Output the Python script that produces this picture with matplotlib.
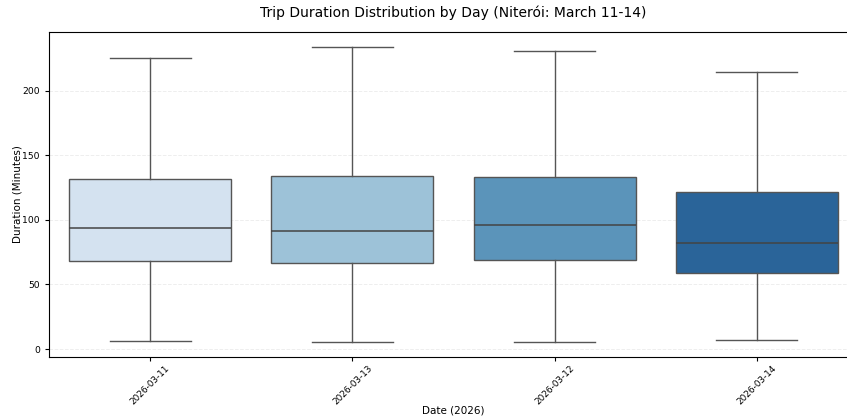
import matplotlib
matplotlib.use("Agg")
import matplotlib.pyplot as plt

# values (minutes)
dates = ["2026-03-11", "2026-03-13", "2026-03-12", "2026-03-14"]
whisker_low = [6.2, 5.4, 5.4, 7.0]
q1 = [68.2, 66.7, 69.0, 59.0]
median = [93.8, 91.5, 96.0, 82.0]
q3 = [131.8, 134.0, 133.3, 121.7]
whisker_high = [225.6, 234.0, 231.0, 214.7]
box_colors = ["#d4e2f0", "#9dc2d8", "#5b94ba", "#2a6499"]

stats = [
    {"label": d, "whislo": lo, "q1": a, "med": m, "q3": b, "whishi": hi, "fliers": []}
    for d, lo, a, m, b, hi in zip(dates, whisker_low, q1, median, q3, whisker_high)
]

fig = plt.figure(figsize=(8.47, 4.19), dpi=100)
ax = fig.add_axes([49 / 847, 62 / 419, 809 / 847, 325 / 419])

line_kw = dict(color="#555555", linewidth=1.0)
bp = ax.bxp(
    stats, positions=range(len(dates)), widths=0.8, patch_artist=True,
    showfliers=False, boxprops=dict(edgecolor="#555555", linewidth=1.0),
    medianprops=dict(color="#444444", linewidth=1.1),
    whiskerprops=line_kw, capprops=line_kw,
)
for patch, c in zip(bp["boxes"], box_colors):
    patch.set_facecolor(c)

ax.set_xlim(-0.5, len(dates) - 0.5)
ax.set_ylim(-6.2, 245.7)
ax.set_yticks([0, 50, 100, 150, 200])
ax.set_xticks(range(len(dates)))
ax.set_xticklabels(dates, rotation=45, fontsize=6.4)
ax.tick_params(axis="y", labelsize=6.7)
ax.tick_params(length=3)
ax.tick_params(axis="x", pad=2)
ax.grid(axis="y", linestyle="--", color="#eeeeee", linewidth=0.7)
ax.set_axisbelow(True)

ax.set_title("Trip Duration Distribution by Day (Niterói: March 11-14)", fontsize=10, pad=11)
ax.set_xlabel("Date (2026)", fontsize=7.5, labelpad=-1)
ax.set_ylabel("Duration (Minutes)", fontsize=7.5, labelpad=0)

fig.savefig("out.png", dpi=100)
